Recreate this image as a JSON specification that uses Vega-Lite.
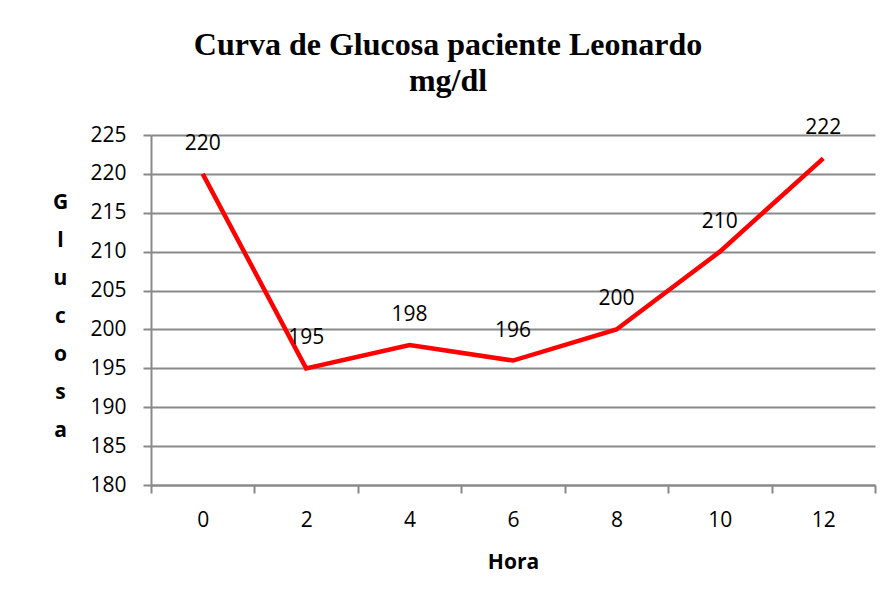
{
  "$schema": "https://vega.github.io/schema/vega-lite/v6.json",
  "width": 724,
  "height": 350,
  "autosize": {"type": "none"},
  "padding": {"left": 151, "top": 135, "right": 21, "bottom": 118},
  "background": "white",
  "title": {
    "text": ["Curva de Glucosa paciente Leonardo", "mg/dl"],
    "font": "Liberation Serif",
    "fontSize": 32,
    "fontWeight": "bold",
    "lineHeight": 36,
    "anchor": "middle",
    "frame": "group",
    "dx": -65,
    "offset": 19,
    "color": "black"
  },
  "data": {
    "values": [
      {"hora": 0, "glucosa": 220},
      {"hora": 2, "glucosa": 195},
      {"hora": 4, "glucosa": 198},
      {"hora": 6, "glucosa": 196},
      {"hora": 8, "glucosa": 200},
      {"hora": 10, "glucosa": 210},
      {"hora": 12, "glucosa": 222}
    ]
  },
  "encoding": {
    "x": {
      "field": "hora",
      "type": "quantitative",
      "scale": {"domain": [-1, 13], "nice": false, "zero": false},
      "axis": {
        "title": "Hora",
        "values": [-1, 1, 3, 5, 7, 9, 11, 13],
        "labelExpr": "datum.value >= 13 ? '' : '' + (datum.value + 1)",
        "labelOffset": 51.7,
        "labelFlush": false,
        "labelOverlap": false,
        "labelBound": false,
        "grid": false,
        "tickSize": 8,
        "tickColor": "#898989",
        "tickWidth": 2,
        "domainColor": "#898989",
        "domainWidth": 2,
        "labelFont": "Open Sans",
        "labelFontSize": 21,
        "labelColor": "black",
        "labelPadding": 16,
        "titleFont": "Open Sans",
        "titleFontSize": 21,
        "titleFontWeight": "bold",
        "titleColor": "black",
        "titleBaseline": "alphabetic",
        "titleY": 83,
        "titleX": 362
      }
    },
    "y": {
      "field": "glucosa",
      "type": "quantitative",
      "scale": {"domain": [180, 225], "nice": false, "zero": false},
      "axis": {
        "title": ["G", "l", "u", "c", "o", "s", "a"],
        "values": [180, 185, 190, 195, 200, 205, 210, 215, 220, 225],
        "grid": true,
        "gridColor": "#898989",
        "gridWidth": 2,
        "tickSize": 8,
        "tickColor": "#898989",
        "tickWidth": 2,
        "domainColor": "#898989",
        "domainWidth": 2,
        "labelFont": "Open Sans",
        "labelFontSize": 21,
        "labelColor": "black",
        "labelPadding": 17,
        "titleFont": "Open Sans",
        "titleFontSize": 21,
        "titleFontWeight": "bold",
        "titleColor": "black",
        "titleAngle": 0,
        "titleAlign": "center",
        "titleBaseline": "middle",
        "titleLineHeight": 38,
        "titleX": -91,
        "titleY": 67
      }
    }
  },
  "layer": [
    {
      "mark": {"type": "line", "color": "#FF0000", "strokeWidth": 4.5, "strokeJoin": "miter"}
    },
    {
      "mark": {"type": "text", "dy": -24, "baseline": "alphabetic", "font": "Open Sans", "fontSize": 21, "color": "black"},
      "encoding": {"text": {"field": "glucosa", "type": "quantitative"}}
    }
  ],
  "config": {"view": {"stroke": null}}
}
